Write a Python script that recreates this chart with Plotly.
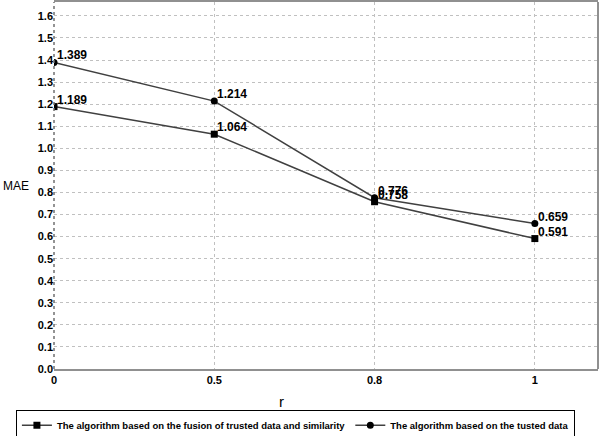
import plotly.graph_objects as go

r_values = ["0", "0.5", "0.8", "1"]
mae_fusion = [1.189, 1.064, 0.758, 0.591]
mae_trusted = [1.389, 1.214, 0.776, 0.659]

name_fusion = "The algorithm based on the fusion of trusted data and similarity"
name_trusted = "The algorithm based on the tusted data"

fig = go.Figure()
for vals, name, sym in [(mae_fusion, name_fusion, "square"),
                        (mae_trusted, name_trusted, "circle")]:
    fig.add_trace(go.Scatter(
        x=r_values, y=vals, name=name, mode="lines+markers",
        line=dict(color="#404040", width=1.5),
        marker=dict(symbol=sym, size=7, color="black"),
    ))
    # value labels just above-right of each point (category axis -> use index)
    for i, yv in enumerate(vals):
        fig.add_annotation(
            x=i, y=yv, text=f"{yv:.3f}", showarrow=False,
            xanchor="left", yanchor="middle", xshift=1, yshift=7,
            font=dict(size=12, color="black", weight="bold"),
        )

fig.update_layout(
    width=600, height=436,
    margin=dict(l=54, r=2, t=2, b=67, autoexpand=False),
    plot_bgcolor="white", paper_bgcolor="white",
    font=dict(family="Liberation Sans", size=11, color="black"),
    showlegend=True,
    legend=dict(
        orientation="h", x=-0.07, xanchor="left", y=-0.153, yanchor="middle",
        bordercolor="black", borderwidth=1, bgcolor="white",
        font=dict(size=9.5, weight="bold"),
        itemwidth=30, tracegroupgap=0,
    ),
    xaxis=dict(
        type="category", range=[0, 3.394],
        showgrid=True, gridcolor="#c0c0c0", griddash="dot", gridwidth=1,
        showline=True, linecolor="#909090", linewidth=2, mirror=True,
        tickfont=dict(size=11, weight="bold"), ticks="", zeroline=False,
    ),
    yaxis=dict(
        range=[0, 1.663], dtick=0.1, tickformat=".1f",
        showgrid=True, gridcolor="#c0c0c0", griddash="dot", gridwidth=1,
        showline=False, zeroline=False,
        tickfont=dict(size=11, weight="bold"), ticks="",
    ),
    shapes=[
        dict(type="line", xref="paper", yref="paper", x0=0, x1=0, y0=0, y1=1,
             line=dict(color="#707070", width=1.5, dash="dot")),
        dict(type="line", xref="paper", yref="paper", x0=1, x1=1, y0=0, y1=1,
             line=dict(color="#909090", width=2)),
    ],
)
fig.add_annotation(text="MAE", xref="paper", yref="paper", x=-0.097, y=0.5,
                   xanchor="left", yanchor="middle",
                   showarrow=False, font=dict(size=12))
fig.add_annotation(text="r", xref="paper", yref="paper", x=0.419, y=-0.088,
                   xanchor="center", yanchor="middle",
                   showarrow=False, font=dict(size=15))

fig.write_html("out.html", config={"displayModeBar": False},
               post_script="document.body.style.margin='0';")
